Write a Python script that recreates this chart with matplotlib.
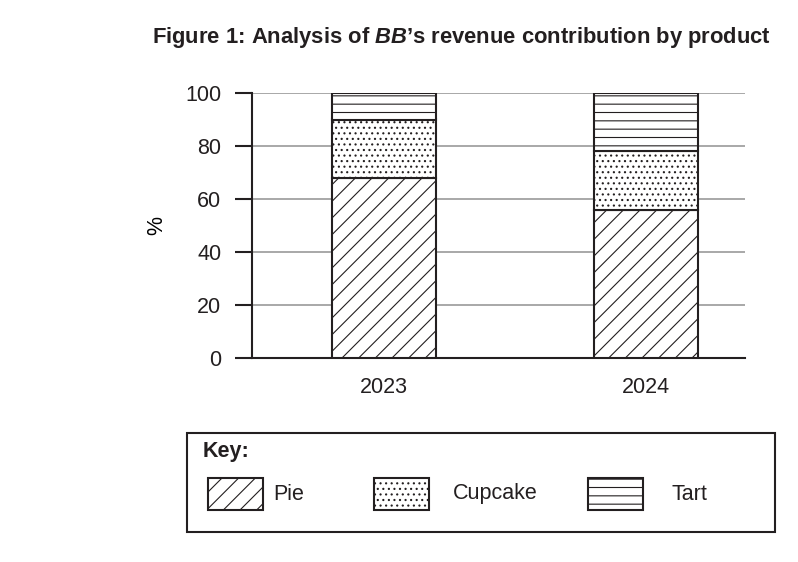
import matplotlib
matplotlib.use("Agg")
import matplotlib.pyplot as plt
from matplotlib.patches import Rectangle
import numpy as np

years = ["2023", "2024"]
products = ["Pie", "Cupcake", "Tart"]
pie = [68, 56]
cupcake = [22, 22]
tart = [10, 22]
hatches = ["//", "...", "--"]
yticks = [0, 20, 40, 60, 80, 100]

plt.rcParams['font.family'] = ['Liberation Sans', 'DejaVu Sans']
plt.rcParams['mathtext.fontset'] = 'custom'
plt.rcParams['mathtext.bfit'] = 'Liberation Sans:bold:italic'
plt.rcParams['mathtext.rm'] = 'Liberation Sans:bold'
plt.rcParams['hatch.linewidth'] = 0.8

EDGE = '#231f20'
plt.rcParams['text.color'] = EDGE
plt.rcParams['xtick.labelcolor'] = EDGE
plt.rcParams['ytick.labelcolor'] = EDGE
FS = 15.5
W, H = 798, 562
fig = plt.figure(figsize=(W / 100, H / 100), dpi=100)
ax = fig.add_axes([252 / W, 1 - 358 / H, (745 - 252) / W, (358 - 93) / H])

x = np.arange(len(years))
series = [pie, cupcake, tart]
bottom = np.zeros(len(years))
for vals, h in zip(series, hatches):
    ax.bar(x, vals, width=0.4, bottom=bottom, facecolor='white', edgecolor=EDGE,
           hatch=h, linewidth=1.5, zorder=3)
    bottom += np.array(vals)

ax.set_xlim(-0.504, 1.378)
ax.set_ylim(0, 100)
ax.set_yticks(yticks)
ax.set_xticks(x)
ax.set_xticklabels(years, fontsize=FS)
ax.tick_params(axis='y', labelsize=FS, length=12, width=1.5, color=EDGE, pad=10)
ax.tick_params(axis='x', length=0, pad=14)
ax.yaxis.grid(True, color='#9a9a9a', linewidth=1.2, zorder=0)
ax.set_axisbelow(True)
for s in ['top', 'right']:
    ax.spines[s].set_visible(False)
for s in ['left', 'bottom']:
    ax.spines[s].set_linewidth(1.5)
    ax.spines[s].set_color(EDGE)
ax.set_ylabel('%', fontsize=FS, labelpad=13)

fig.text(462 / W, 1 - 37 / H, r"Figure 1: Analysis of $\mathbfit{BB}$’s revenue contribution by product",
         ha='center', va='center', fontsize=15.8, fontweight='bold')

# Key (legend) box
def fx(px):
    return px / W

def fy(py):
    return 1 - py / H

fig.patches.append(Rectangle((fx(187), fy(532)), fx(775) - fx(187), fy(433) - fy(532),
                             transform=fig.transFigure, facecolor='none', edgecolor=EDGE,
                             linewidth=1.5))
fig.text(fx(203), fy(452), 'Key:', ha='left', va='center', fontsize=FS, fontweight='bold')
patch_x = [208, 374, 588]
label_x = [273, 453, 672]
for p, h, px0, lx in zip(products, hatches, patch_x, label_x):
    fig.patches.append(Rectangle((fx(px0), fy(510)), fx(px0 + 55) - fx(px0), fy(478) - fy(510),
                                 transform=fig.transFigure, facecolor='white', edgecolor=EDGE,
                                 hatch=h, linewidth=1.5))
    fig.text(fx(lx), fy(494), p, ha='left', va='center', fontsize=FS)

fig.savefig('out.png', dpi=100)
